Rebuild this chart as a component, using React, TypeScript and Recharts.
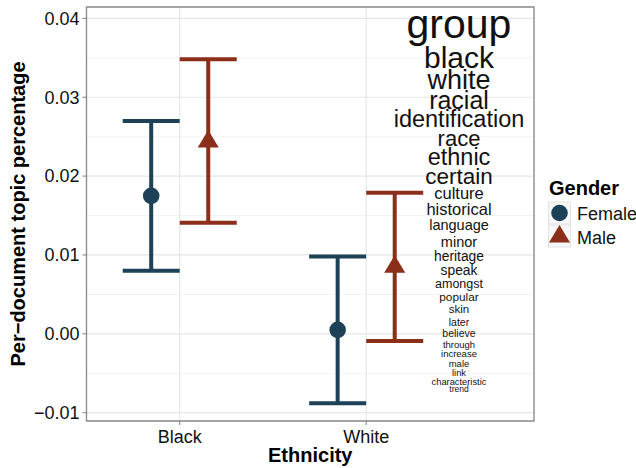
import { CartesianGrid, ErrorBar, ReferenceArea, Scatter, ScatterChart, XAxis, YAxis } from "recharts";

document.body.style.margin = "0";

// per-document topic share by ethnicity and gender (mean with interval)
const ethnicities = ["Black", "White"];
const femaleMean = [0.0175, 0.0005];
const femaleLower = [0.008, -0.0088];
const femaleUpper = [0.027, 0.0098];
const maleMean = [0.0244, 0.0085];
const maleLower = [0.0141, -0.0009];
const maleUpper = [0.0348, 0.0179];

const yTicks = [-0.01, 0, 0.01, 0.02, 0.03, 0.04];
const yMinor = [-0.005, 0.005, 0.015, 0.025, 0.035];

// topic words, weighted by prominence (font px)
const topicWords = [
  "group", "black", "white", "racial", "identification", "race", "ethnic", "certain",
  "culture", "historical", "language", "minor", "heritage", "speak", "amongst", "popular",
  "skin", "later", "believe", "through", "increase", "male", "link", "characteristic", "trend",
];
const topicWeights = [
  41, 30, 27, 25, 23.5, 22, 23.5, 22.5, 16.5, 16.5, 14.5, 14.5, 13.8, 13.8, 12.5, 11.8,
  11.5, 10.5, 10.5, 9.5, 9.5, 9.5, 9.3, 9.3, 8.5,
];
// baselines of the stacked cloud, px from the top of the panel
const cloudBaselines = [
  31, 61, 82, 102, 120, 139, 158, 177, 192, 208, 223, 240, 254, 268, 281, 294,
  306, 319, 330, 341, 350, 360, 369, 378, 385,
];

const FEMALE = "#1d4257";
const MALE = "#8b2e1a";
const FONT = '"Liberation Sans", Arial, Helvetica, sans-serif';
const DODGE = 0.153;
const PANEL = { left: 86.5, top: 7, right: 534, bottom: 421 };
const Y_DOMAIN: [number, number] = [-0.01105, 0.04144];
const X_DOMAIN: [number, number] = [0.5, 2.9];

const build = (mean: number[], lower: number[], upper: number[], shift: number) =>
  ethnicities.map((e, i) => ({
    ethnicity: e,
    x: i + 1 + shift,
    mean: mean[i],
    lower: lower[i],
    upper: upper[i],
  }));

const femaleData = build(femaleMean, femaleLower, femaleUpper, -DODGE);
const maleData = build(maleMean, maleLower, maleUpper, DODGE);

type Row = (typeof femaleData)[number];
const interval = (d: Row) => [d.mean - d.lower, d.upper - d.mean];

const fmt = (v: number) => v.toFixed(2).replace("-", "\u2212");

const Dot = (props: any) => <circle cx={props.cx} cy={props.cy} r={8.3} fill={FEMALE} />;

const Tri = (props: any) => {
  const { cx, cy } = props;
  return (
    <polygon
      points={`${cx},${cy - 11.5} ${cx + 10.5},${cy + 6} ${cx - 10.5},${cy + 6}`}
      fill={MALE}
    />
  );
};

function GenderLegend({ x, y }: { x: number; y: number }) {
  return (
    <g transform={`translate(${x} ${y})`} fontFamily={FONT}>
      <text x={0} y={20} fontSize={20} fontWeight="bold" fill="#000">
        Gender
      </text>
      <rect x={-0.5} y={27} width={22} height={22} fill="#f7f7f7" stroke="#e3e3e3" />
      <circle cx={10.5} cy={38} r={8.3} fill={FEMALE} />
      <rect x={-0.5} y={50} width={22} height={22} fill="#f7f7f7" stroke="#e3e3e3" />
      <polygon points="10.5,50 21,67.5 0,67.5" fill={MALE} />
      <text x={28} y={44.5} fontSize={18} fill="#111">
        Female
      </text>
      <text x={28} y={68.5} fontSize={18} fill="#111">
        Male
      </text>
    </g>
  );
}

export default function App() {
  const cloudX = 459;
  return (
    <div style={{ width: 636, height: 468, background: "#fff", fontFamily: FONT }}>
      <ScatterChart
        width={636}
        height={468}
        margin={{ top: PANEL.top, right: 636 - PANEL.right, bottom: 0, left: 0 }}
      >
        <CartesianGrid
          horizontalValues={yMinor}
          vertical={false}
          stroke="#f3f3f3"
          strokeWidth={1}
        />
        <CartesianGrid stroke="#e6e6e6" strokeWidth={1.2} />
        <XAxis
          type="number"
          dataKey="x"
          domain={X_DOMAIN}
          ticks={[1, 2]}
          allowDataOverflow
          tickFormatter={(v) => ethnicities[Math.round(v) - 1] ?? ""}
          height={468 - PANEL.bottom}
          axisLine={false}
          tickSize={4}
          tickMargin={5}
          tickLine={{ stroke: "#7f7f7f" }}
          tick={{ fontSize: 18, fill: "#111", fontFamily: FONT }}
        />
        <YAxis
          type="number"
          dataKey="mean"
          domain={Y_DOMAIN}
          ticks={yTicks}
          allowDataOverflow
          tickFormatter={fmt}
          width={PANEL.left}
          axisLine={false}
          tickSize={4}
          tickMargin={3}
          tickLine={{ stroke: "#7f7f7f" }}
          tick={{ fontSize: 18, fill: "#111", fontFamily: FONT }}
        />
        <Scatter data={femaleData} name="Female" shape={Dot} isAnimationActive={false}>
          <ErrorBar
            dataKey={interval}
            direction="y"
            width={28.5}
            stroke={FEMALE}
            strokeWidth={4}
            isAnimationActive={false}
          />
        </Scatter>
        <Scatter data={maleData} name="Male" shape={Tri} isAnimationActive={false}>
          <ErrorBar
            dataKey={interval}
            direction="y"
            width={28.5}
            stroke={MALE}
            strokeWidth={4}
            isAnimationActive={false}
          />
        </Scatter>
        <ReferenceArea
          x1={X_DOMAIN[0]}
          x2={X_DOMAIN[1]}
          y1={Y_DOMAIN[0]}
          y2={Y_DOMAIN[1]}
          fill="none"
          stroke="#8a8a8a"
          strokeWidth={1.3}
        />
        <g fontFamily={FONT} fill="#111" textAnchor="middle">
          {topicWords.map((w, i) => (
            <text key={w} x={cloudX} y={PANEL.top + cloudBaselines[i]} fontSize={topicWeights[i]}>
              {w}
            </text>
          ))}
        </g>
        <GenderLegend x={549} y={175} />
        <text
          x={(PANEL.left + PANEL.right) / 2}
          y={462}
          textAnchor="middle"
          fontFamily={FONT}
          fontSize={20}
          fontWeight="bold"
          fill="#000"
        >
          Ethnicity
        </text>
        <text
          x={24.5}
          y={214}
          transform="rotate(-90 24.5 214)"
          textAnchor="middle"
          fontFamily={FONT}
          fontSize={20}
          fontWeight="bold"
          fill="#000"
        >
          Per{"\u2212"}document topic percentage
        </text>
      </ScatterChart>
    </div>
  );
}
